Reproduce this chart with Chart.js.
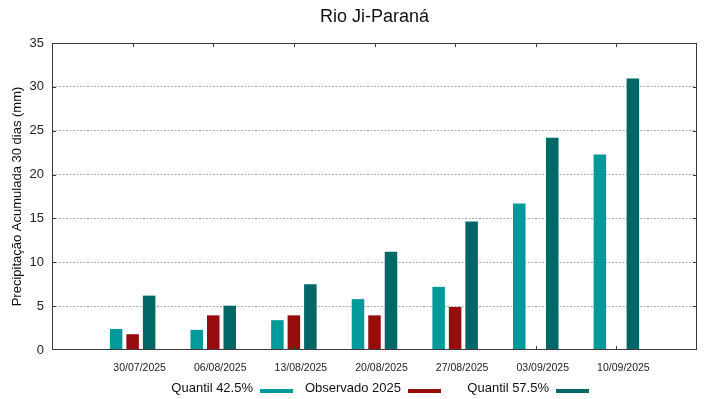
<!DOCTYPE html>
<html>
<head>
<meta charset="utf-8">
<script src="https://cdn.jsdelivr.net/npm/chart.js@4.4.1/dist/chart.umd.min.js"></script>
<style>
  html, body { margin: 0; padding: 0; background: #ffffff; }
  #wrap { width: 719px; height: 399px; }
</style>
</head>
<body>
<div id="wrap"><canvas id="c" width="719" height="399"></canvas></div>
<script>
const chartTitle = 'Rio Ji-Paraná';
const yAxisTitle = 'Precipitação Acumulada 30 dias (mm)';
const dates = ['30/07/2025', '06/08/2025', '13/08/2025', '20/08/2025', '27/08/2025', '03/09/2025', '10/09/2025'];
const seriesNames = ['Quantil 42.5%', 'Observado 2025', 'Quantil 57.5%'];
const quantil425 = [2.4, 2.3, 3.4, 5.8, 7.2, 16.7, 22.3];
const observado2025 = [1.8, 3.95, 3.95, 3.95, 4.9, null, null];
const quantil575 = [6.2, 5.05, 7.5, 11.2, 14.65, 24.2, 30.95];
const yTicks = [0, 5, 10, 15, 20, 25, 30, 35];
const seriesColors = ['#009a9a', '#970d0d', '#006666'];

const FONT = '"Liberation Sans", Arial, sans-serif';

function toPoints(arr) {
  return arr.map((v, i) => ({ x: i, y: v }));
}

const decorPlugin = {
  id: 'decor',
  afterDraw(chart) {
    const ctx = chart.ctx;
    const a = chart.chartArea;
    const xs = chart.scales.x, ys = chart.scales.y;
    ctx.save();
    // border
    ctx.strokeStyle = '#3a3a3a';
    ctx.lineWidth = 1;
    ctx.strokeRect(Math.round(a.left) + 0.5, Math.round(a.top) + 0.5,
                   Math.round(a.right - a.left) - 1, Math.round(a.bottom - a.top) - 1);
    // y ticks (inward, both sides)
    ctx.beginPath();
    yTicks.forEach(v => {
      if (v === yTicks[0] || v === yTicks[yTicks.length - 1]) return;
      const y = Math.round(ys.getPixelForValue(v)) + 0.5;
      ctx.moveTo(a.left, y); ctx.lineTo(a.left + 4, y);
      ctx.moveTo(a.right, y); ctx.lineTo(a.right - 4, y);
    });
    // x ticks (inward, top and bottom)
    dates.forEach((d, i) => {
      const x = Math.round(xs.getPixelForValue(i)) + 0.5;
      ctx.moveTo(x, a.top); ctx.lineTo(x, a.top + 4);
      ctx.moveTo(x, a.bottom); ctx.lineTo(x, a.bottom - 4);
    });
    ctx.stroke();

    // title
    ctx.fillStyle = '#111';
    ctx.font = '18px ' + FONT;
    ctx.textAlign = 'center';
    ctx.textBaseline = 'alphabetic';
    ctx.fillText(chartTitle, (a.left + a.right) / 2, 22);

    // y axis title
    ctx.save();
    ctx.translate(21, (a.top + a.bottom) / 2);
    ctx.rotate(-Math.PI / 2);
    ctx.font = '13px ' + FONT;
    ctx.textAlign = 'center';
    ctx.textBaseline = 'alphabetic';
    ctx.fillText(yAxisTitle, 0, 0);
    ctx.restore();

    // legend: text then colored sample
    ctx.font = '13px ' + FONT;
    ctx.textAlign = 'right';
    ctx.textBaseline = 'alphabetic';
    chart.data.datasets.forEach((ds, i) => {
      const boxRight = 293 + 148 * i;
      const boxLeft = boxRight - 33;
      ctx.fillStyle = '#111';
      ctx.fillText(ds.label, boxLeft - 7, 392);
      ctx.fillStyle = ds.backgroundColor;
      ctx.fillRect(boxLeft, 389, 33, 4);
    });
    ctx.restore();
  }
};

const chart = new Chart(document.getElementById('c'), {
  type: 'bar',
  data: {
    datasets: [
      { label: seriesNames[0], data: toPoints(quantil425), backgroundColor: seriesColors[0] },
      { label: seriesNames[1], data: toPoints(observado2025), backgroundColor: seriesColors[1] },
      { label: seriesNames[2], data: toPoints(quantil575), backgroundColor: seriesColors[2] }
    ]
  },
  options: {
    responsive: false,
    animation: false,
    devicePixelRatio: 1,
    categoryPercentage: 0.614,
    barPercentage: 0.76,
    layout: { padding: { top: 43, right: 22, left: 0, bottom: 0 } },
    plugins: {
      legend: { display: false },
      title: { display: false },
      tooltip: { enabled: false }
    },
    scales: {
      x: {
        type: 'linear',
        offset: false,
        min: -1,
        max: dates.length,
        afterBuildTicks(s) {
          s.ticks = dates.map((d, i) => ({ value: i }));
        },
        afterFit(s) { s.height = 49; },
        ticks: {
          autoSkip: false,
          maxRotation: 0,
          minRotation: 0,
          labelOffset: 7,
          padding: 12,
          color: '#222',
          font: { family: FONT, size: 10.5 },
          callback: (v) => (dates[v] !== undefined ? dates[v] : '')
        },
        grid: { display: false, drawTicks: false },
        border: { display: false }
      },
      y: {
        min: yTicks[0],
        max: yTicks[yTicks.length - 1],
        afterBuildTicks(s) {
          s.ticks = yTicks.map(v => ({ value: v }));
        },
        afterFit(s) { s.width = 52; },
        ticks: {
          padding: 8,
          color: '#222',
          font: { family: FONT, size: 13 }
        },
        grid: {
          drawTicks: false,
          lineWidth: 1,
          color: (c) => (c.tick && (c.tick.value === yTicks[0] || c.tick.value === yTicks[yTicks.length - 1])) ? 'rgba(0,0,0,0)' : '#a8a8a8'
        },
        border: { display: false, dash: [2, 1.5] }
      }
    }
  },
  plugins: [decorPlugin]
});
</script>
</body>
</html>
